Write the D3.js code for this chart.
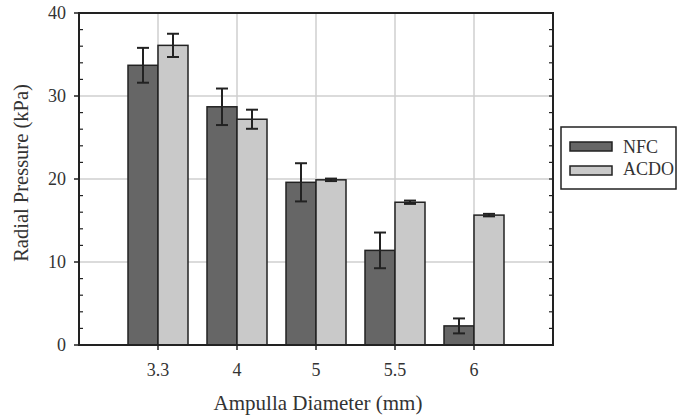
<!DOCTYPE html>
<html><head><meta charset="utf-8">
<script src="https://cdn.jsdelivr.net/npm/d3@7"></script>
<style>body{margin:0;background:#fff}svg{display:block}text{font-family:"Liberation Serif","Times New Roman",serif;fill:#333}</style>
</head><body><svg id="c" width="677" height="418"></svg>
<script>
const categories = ["3.3","4","5","5.5","6"];
const seriesNames = ["NFC","ACDO"];
const nfcValues = [33.7, 28.7, 19.6, 11.4, 2.3];
const nfcErrors = [2.1, 2.2, 2.3, 2.15, 0.9];
const acdoValues = [36.1, 27.2, 19.9, 17.2, 15.65];
const acdoErrors = [1.4, 1.15, 0.15, 0.2, 0.15];
const yTicks = [0, 10, 20, 30, 40];
const colors = ["#666666", "#c9c9c9"];

const svg = d3.select("#c");
const L = 79, R = 553, T = 13, B = 345;
const x = d3.scaleLinear().domain([0, categories.length + 1]).range([L, R]);
const y = d3.scaleLinear().domain([0, 40]).range([B, T]);
const bw = 30;

// grid
svg.append("g").selectAll("line").data([10,20,30]).join("line")
  .attr("x1", L).attr("x2", R).attr("y1", d=>y(d)).attr("y2", d=>y(d))
  .attr("stroke", "#cfcfcf").attr("stroke-width", 1.5);
svg.append("g").selectAll("line").data(categories).join("line")
  .attr("x1", (d,i)=>x(i+1)).attr("x2", (d,i)=>x(i+1)).attr("y1", T).attr("y2", B)
  .attr("stroke", "#cfcfcf").attr("stroke-width", 1.5);

const series = [
  {name: seriesNames[0], vals: nfcValues, errs: nfcErrors, off: -bw, color: colors[0]},
  {name: seriesNames[1], vals: acdoValues, errs: acdoErrors, off: 0, color: colors[1]}
];
series.forEach(s => {
  const g = svg.append("g");
  g.selectAll("rect").data(s.vals).join("rect")
    .attr("x", (d,i)=>x(i+1)+s.off).attr("width", bw)
    .attr("y", d=>y(d)).attr("height", d=>B - y(d))
    .attr("fill", s.color).attr("stroke", "#222").attr("stroke-width", 1.5);
});
series.forEach(s => {
  const g = svg.append("g").attr("stroke", "#222").attr("stroke-width", 2);
  s.vals.forEach((v,i) => {
    const cx = x(i+1) + s.off + bw/2, e = s.errs[i];
    g.append("line").attr("x1", cx).attr("x2", cx).attr("y1", y(v+e)).attr("y2", y(v-e));
    [v+e, v-e].forEach(t => g.append("line").attr("x1", cx-6).attr("x2", cx+6).attr("y1", y(t)).attr("y2", y(t)));
  });
});

// frame
svg.append("rect").attr("x", L).attr("y", T).attr("width", R-L).attr("height", B-T)
  .attr("fill", "none").attr("stroke", "#222").attr("stroke-width", 2);

// y axis major ticks (outside) + labels
const minor = d3.range(2, 40, 2).filter(v => v % 10 !== 0);
svg.append("g").selectAll("line").data(yTicks).join("line")
  .attr("x1", L-5).attr("x2", L).attr("y1", d=>y(d)).attr("y2", d=>y(d))
  .attr("stroke", "#222").attr("stroke-width", 1.5);
svg.append("g").selectAll("line").data(minor).join("line")
  .attr("x1", L).attr("x2", L+4).attr("y1", d=>y(d)).attr("y2", d=>y(d))
  .attr("stroke", "#222").attr("stroke-width", 1.2);
svg.append("g").selectAll("line").data(d3.range(2, 40, 2)).join("line")
  .attr("x1", R-4).attr("x2", R).attr("y1", d=>y(d)).attr("y2", d=>y(d))
  .attr("stroke", "#222").attr("stroke-width", 1.2);
svg.append("g").selectAll("text").data(yTicks).join("text")
  .attr("x", L-13).attr("y", d=>y(d)).attr("dy", "0.35em")
  .attr("text-anchor", "end").attr("font-size", 18).text(d=>d);

// x ticks
svg.append("g").selectAll("line").data(categories).join("line")
  .attr("x1", (d,i)=>x(i+1)).attr("x2", (d,i)=>x(i+1)).attr("y1", B).attr("y2", B+5)
  .attr("stroke", "#222").attr("stroke-width", 1.5);
svg.append("g").selectAll("text").data(categories).join("text")
  .attr("x", (d,i)=>x(i+1)).attr("y", 376).attr("text-anchor", "middle")
  .attr("font-size", 18).text(d=>d);

// axis titles
svg.append("text").attr("x", 318).attr("y", 410).attr("text-anchor", "middle")
  .attr("font-size", 21).text("Ampulla Diameter (mm)");
svg.append("text").attr("transform", `translate(28,173) rotate(-90)`)
  .attr("text-anchor", "middle").attr("font-size", 20.5).text("Radial Pressure (kPa)");

// legend
const lg = svg.append("g");
lg.append("rect").attr("x", 561).attr("y", 127).attr("width", 115).attr("height", 62)
  .attr("fill", "#fff").attr("stroke", "#222").attr("stroke-width", 1.5);
series.forEach((s,i) => {
  lg.append("rect").attr("x", 570).attr("y", 142 + i*24).attr("width", 42).attr("height", 9)
    .attr("fill", s.color).attr("stroke", "#222").attr("stroke-width", 1.5);
  lg.append("text").attr("x", 623).attr("y", 153 + i*22)
    .attr("font-size", 18).text(s.name);
});
</script></body></html>
